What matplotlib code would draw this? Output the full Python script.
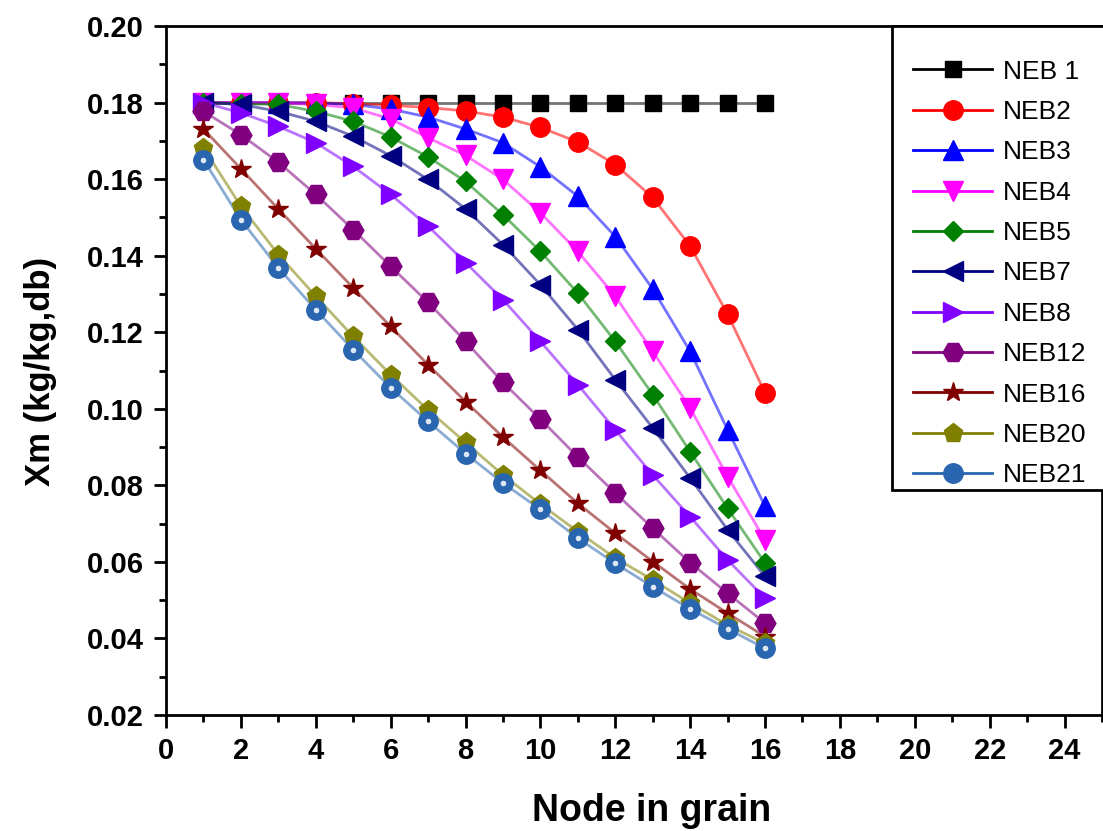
import matplotlib
matplotlib.use("Agg")
import matplotlib.pyplot as plt
from matplotlib.patches import Rectangle
from matplotlib.ticker import MultipleLocator

plt.rcParams["font.family"] = ["Liberation Sans", "DejaVu Sans"]

nodes = [1, 2, 3, 4, 5, 6, 7, 8, 9, 10, 11, 12, 13, 14, 15, 16]

neb1 = [0.180, 0.180, 0.180, 0.180, 0.180, 0.180, 0.180, 0.180,
        0.180, 0.180, 0.180, 0.180, 0.180, 0.180, 0.180, 0.180]
neb2 = [0.180, 0.180, 0.180, 0.180, 0.1797, 0.1793, 0.1787, 0.1778,
        0.1762, 0.1735, 0.1697, 0.1638, 0.1552, 0.1425, 0.1247, 0.1042]
neb3 = [0.180, 0.180, 0.180, 0.1799, 0.1795, 0.1783, 0.1762, 0.1731,
        0.1695, 0.1632, 0.1555, 0.1450, 0.1313, 0.1150, 0.0945, 0.0745]
neb4 = [0.180, 0.180, 0.1799, 0.1795, 0.1786, 0.1757, 0.1708, 0.1662,
        0.1599, 0.1512, 0.1411, 0.1294, 0.1150, 0.1002, 0.0823, 0.0657]
neb5 = [0.180, 0.1797, 0.1795, 0.1777, 0.1751, 0.1710, 0.1658, 0.1594,
        0.1507, 0.1411, 0.1302, 0.1176, 0.1037, 0.0888, 0.0740, 0.0597]
neb7 = [0.180, 0.1795, 0.1777, 0.1751, 0.1712, 0.1661, 0.1599, 0.1522,
        0.1429, 0.1324, 0.1207, 0.1076, 0.0950, 0.0819, 0.0684, 0.0562]
neb8 = [0.180, 0.1773, 0.1738, 0.1695, 0.1633, 0.1560, 0.1477, 0.1382,
        0.1285, 0.1176, 0.1063, 0.0945, 0.0827, 0.0718, 0.0605, 0.0505]
neb12 = [0.1777, 0.1716, 0.1644, 0.1560, 0.1468, 0.1372, 0.1278, 0.1176,
         0.1069, 0.0973, 0.0874, 0.0780, 0.0688, 0.0598, 0.0518, 0.0440]
neb16 = [0.1731, 0.1627, 0.1522, 0.1418, 0.1316, 0.1215, 0.1115, 0.1019,
         0.0926, 0.0839, 0.0753, 0.0675, 0.0601, 0.0529, 0.0466, 0.0405]
neb20 = [0.1682, 0.1529, 0.1403, 0.1294, 0.1189, 0.1089, 0.0997, 0.0912,
         0.0827, 0.0751, 0.0679, 0.0610, 0.0553, 0.0492, 0.0435, 0.0387]
neb21 = [0.1651, 0.1494, 0.1368, 0.1259, 0.1154, 0.1055, 0.0967, 0.0883,
         0.0806, 0.0737, 0.0662, 0.0596, 0.0535, 0.0477, 0.0425, 0.0374]

series = [neb1, neb2, neb3, neb4, neb5, neb7, neb8, neb12, neb16, neb20, neb21]
nombres = ["NEB 1", "NEB2", "NEB3", "NEB4", "NEB5", "NEB7", "NEB8",
           "NEB12", "NEB16", "NEB20", "NEB21"]
colores = ["#000000", "#FF0000", "#0000FF", "#FF00FF", "#008000", "#000080",
           "#8000FF", "#800080", "#800000", "#808000", "#2A66B0"]
marcadores = ["s", "o", "^", "v", "D", "<", ">", "H", "*", "p", "o"]
tamanos = [12, 14, 15, 15, 10.5, 15, 15, 15, 15, 14, 14]

fig = plt.figure(figsize=(11.03, 8.31), dpi=100)
ax = fig.add_axes([166 / 1103, 116 / 831, 936 / 1103, 689 / 831])

handles = []
for datos, nombre, c, m, s in zip(series, nombres, colores, marcadores, tamanos):
    ax.plot(nodes, datos, color=c, lw=2, alpha=0.55, zorder=2)
    ax.plot(nodes, datos, ls="none", marker=m, ms=s, color=c,
            markeredgecolor=c, zorder=3)
    h, = ax.plot([], [], color=c, lw=2, marker=m, ms=s,
                 markeredgecolor=c, label=nombre)
    handles.append(h)

# brillo del marcador de NEB21
ax.plot(nodes, neb21, ls="none", marker="o", ms=4, color="#DDE8F5",
        markeredgecolor="none", zorder=4)

ax.set_xlim(0, 25)
ax.set_ylim(0.02, 0.20)
ax.xaxis.set_major_locator(MultipleLocator(2))
ax.xaxis.set_minor_locator(MultipleLocator(1))
ax.yaxis.set_major_locator(MultipleLocator(0.02))
ax.yaxis.set_minor_locator(MultipleLocator(0.01))
ax.yaxis.set_major_formatter(plt.FormatStrFormatter("%.2f"))

ax.tick_params(which="major", direction="out", length=9, width=2,
               labelsize=21, pad=7)
ax.tick_params(which="minor", direction="out", length=5, width=2)
for lab in ax.get_xticklabels() + ax.get_yticklabels():
    lab.set_fontweight("bold")
for sp in ax.spines.values():
    sp.set_linewidth(2)

ax.set_xlabel("Node in grain", fontsize=27, fontweight="bold")
ax.xaxis.label.set_va("center")
ax.xaxis.set_label_coords(0.519, -0.139)
ax.set_ylabel("Xm (kg/kg,db)", fontsize=25, fontweight="bold")
ax.yaxis.label.set_va("center")
ax.yaxis.set_label_coords(-0.1346, 0.498)

# marco de la leyenda
ax.add_patch(Rectangle((0.7756, 0.3266), 0.25, 0.6734, transform=ax.transAxes,
                       fill=True, facecolor="white", edgecolor="black",
                       lw=2, zorder=5, clip_on=False))
leg = ax.legend(handles=handles, loc="center left", bbox_to_anchor=(0.798, 0.6408),
                frameon=False, fontsize=19, handlelength=3.0, handletextpad=0.4,
                labelspacing=0.62, borderpad=0, borderaxespad=0)
leg.set_zorder(6)

fig.savefig("out.png", dpi=100)
